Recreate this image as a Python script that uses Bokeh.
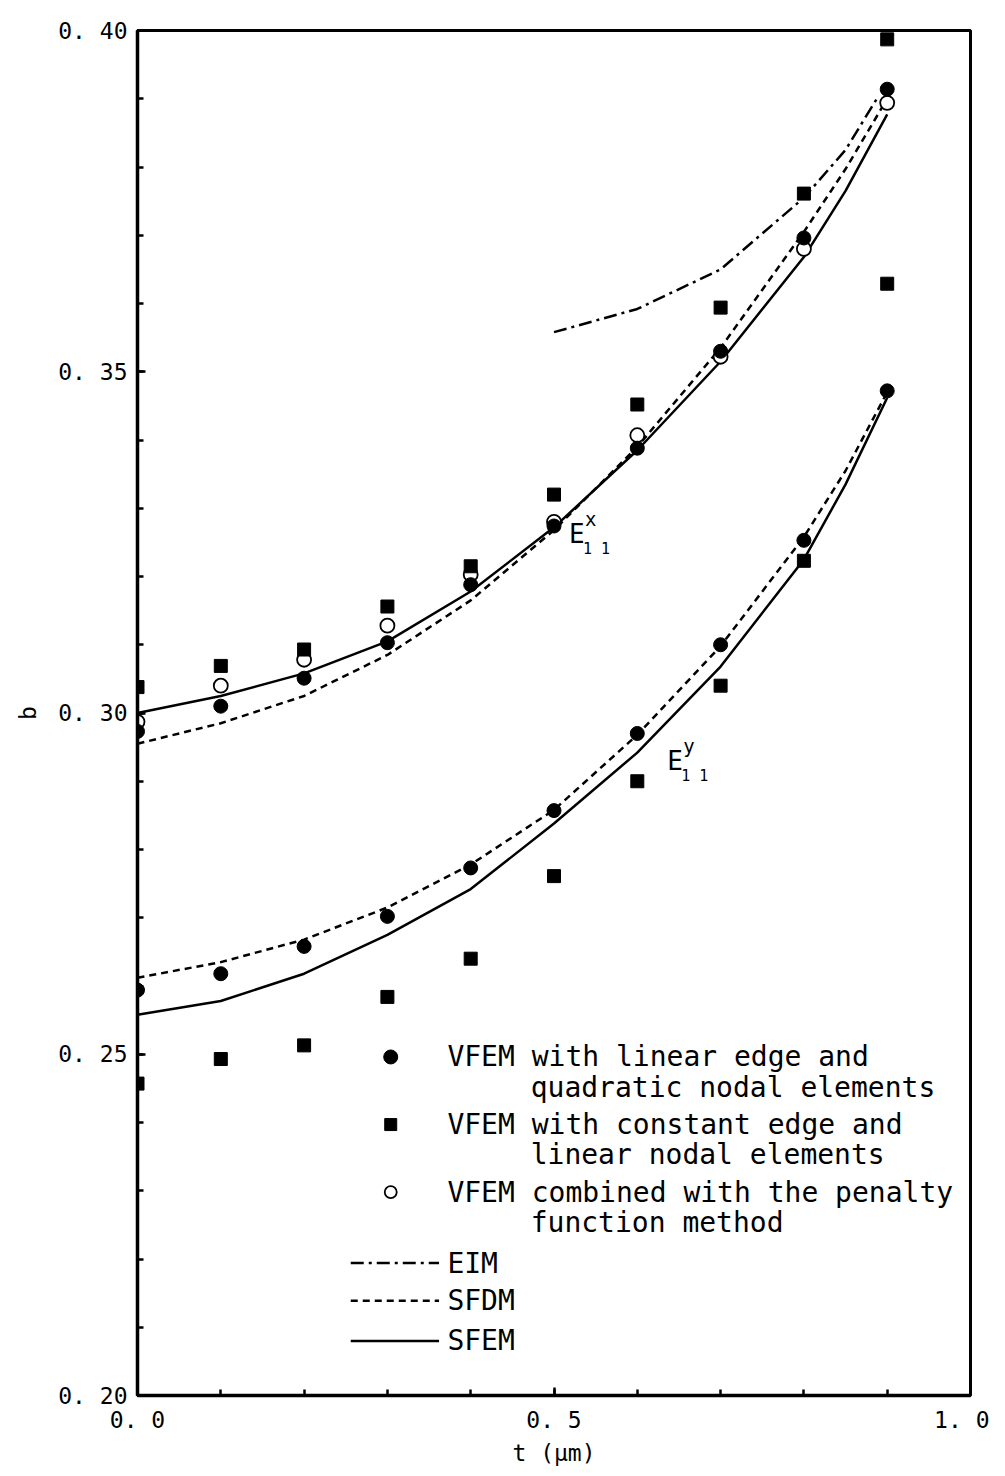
from bokeh.plotting import figure
from bokeh.models import SingleIntervalTicker, CustomJSTickFormatter, Range1d, Label
from bokeh.embed import file_html
from bokeh.resources import INLINE
from bokeh.core.properties import value

# ---- data ----
t_pts = [0.0, 0.1, 0.2, 0.3, 0.4, 0.5, 0.6, 0.7, 0.8, 0.9]
# E11^x branch
ex_quad = [0.2973, 0.3010, 0.3051, 0.3103, 0.3188, 0.3274, 0.3388, 0.3530, 0.3696, 0.3914]
ex_const = [0.3038, 0.3069, 0.3093, 0.3156, 0.3215, 0.3320, 0.3452, 0.3594, 0.3761, 0.3987]
ex_pen = [0.2987, 0.3040, 0.3078, 0.3128, 0.3203, 0.3280, 0.3407, 0.3522, 0.3680, 0.3894]
# E11^y branch
ey_quad = [0.2594, 0.2618, 0.2658, 0.2702, 0.2773, 0.2857, 0.2970, 0.3100, 0.3253, 0.3472]
ey_const = [0.2457, 0.2493, 0.2513, 0.2584, 0.2640, 0.2761, 0.2900, 0.3040, 0.3223, 0.3629]

t_curve = [0.0, 0.1, 0.2, 0.3, 0.4, 0.5, 0.6, 0.7, 0.8, 0.85, 0.9]
ex_sfem = [0.3000, 0.3025, 0.3058, 0.3105, 0.3178, 0.3272, 0.3385, 0.3515, 0.3668, 0.3765, 0.3877]
ex_sfdm = [0.2955, 0.2985, 0.3025, 0.3085, 0.3165, 0.3268, 0.3390, 0.3535, 0.3705, 0.3797, 0.3900]
ey_sfem = [0.2558, 0.2578, 0.2618, 0.2675, 0.2742, 0.2838, 0.2942, 0.3068, 0.3225, 0.3335, 0.3462]
ey_sfdm = [0.2612, 0.2635, 0.2668, 0.2715, 0.2778, 0.2858, 0.2968, 0.3098, 0.3258, 0.3355, 0.3470]
t_eim = [0.5, 0.6, 0.7, 0.8, 0.85, 0.89]
ex_eim = [0.3558, 0.3592, 0.3650, 0.3755, 0.3825, 0.3905]

legend_marker_labels = [
    ("VFEM with linear edge and", "quadratic nodal elements"),
    ("VFEM with constant edge and", "linear nodal elements"),
    ("VFEM combined with the penalty", "function method"),
]
legend_line_labels = ["EIM", "SFDM", "SFEM"]

MONO = "DejaVu Sans Mono"

p = figure(width=989, height=1468, output_backend="svg", toolbar_location=None,
           x_range=Range1d(0.0, 1.0), y_range=Range1d(0.20, 0.40),
           min_border_left=137, min_border_right=19, min_border_top=30, min_border_bottom=68)
p.background_fill_color = "white"
p.border_fill_color = "white"
p.grid.visible = False
p.outline_line_color = "black"
p.outline_line_width = 3
p.outline_line_alpha = 1.0

for ax in (p.xaxis[0], p.yaxis[0]):
    ax.axis_line_width = 3.5
    ax.major_tick_in = 8
    ax.major_tick_out = 0
    ax.minor_tick_in = 6
    ax.minor_tick_out = 0
    ax.major_tick_line_width = 2.5
    ax.minor_tick_line_width = 2.5
    ax.major_label_text_font = MONO
    ax.major_label_text_font_size = "23px"
    ax.major_label_text_color = "black"
    ax.axis_label_text_font = MONO
    ax.axis_label_text_font_style = "normal"
    ax.axis_label_text_font_size = "23px"
    ax.axis_label_text_color = "black"

p.xaxis.ticker = SingleIntervalTicker(interval=0.5, num_minor_ticks=5)
p.yaxis.ticker = SingleIntervalTicker(interval=0.05, num_minor_ticks=5)
p.xaxis.formatter = CustomJSTickFormatter(code="return tick.toFixed(1).replace('.', '. ');")
p.yaxis.formatter = CustomJSTickFormatter(code="return tick.toFixed(2).replace('.', '. ');")
p.xaxis.major_label_standoff = 11
p.yaxis.major_label_standoff = 10
p.xaxis.axis_label = "t (μm)"
p.yaxis.axis_label = "b"
p.xaxis.axis_label_standoff = 4
p.yaxis.axis_label_standoff = 14

LW = 2.5
# curves
p.line(t_curve, ex_sfem, line_color="black", line_width=LW)
p.line(t_curve, ey_sfem, line_color="black", line_width=LW)
p.line(t_curve, ex_sfdm, line_color="black", line_width=LW, line_dash="7 5")
p.line(t_curve, ey_sfdm, line_color="black", line_width=LW, line_dash="7 5")
p.line(t_eim, ex_eim, line_color="black", line_width=LW, line_dash="13 5 3 5")

# points
MS = 14
p.scatter(t_pts, ex_pen, marker="circle", size=MS, fill_color="white", line_color="black", line_width=1.8)
p.scatter(t_pts, ex_quad, marker="circle", size=MS, fill_color="black", line_color="black")
p.scatter(t_pts, ey_quad, marker="circle", size=MS, fill_color="black", line_color="black")
p.scatter(t_pts, ex_const, marker="square", size=MS - 1, fill_color="black", line_color="black")
p.scatter(t_pts, ey_const, marker="square", size=MS - 1, fill_color="black", line_color="black")

# mode labels E11^x, E11^y
for (lx, ly, sup) in [(0.518, 0.3262, "x"), (0.636, 0.2930, "y")]:
    p.add_layout(Label(x=lx, y=ly, text="E", text_font=MONO, text_font_size="26px",
                       text_baseline="middle", text_align="left", text_color="black"))
    p.add_layout(Label(x=lx, y=ly, x_offset=16, y_offset=15, text=sup, text_font=MONO,
                       text_font_size="19px", text_baseline="middle", text_color="black"))
    p.add_layout(Label(x=lx, y=ly, x_offset=14, y_offset=-15, text="1 1", text_font=MONO,
                       text_font_size="15px", text_baseline="middle", text_color="black"))

# legend (drawn inside the frame)
leg_marker_x = 0.304
leg_text_x = 0.372
leg_text2_x = 0.472
leg_rows = [0.2496, 0.2397, 0.2298]
leg_row_gap = 0.0044
leg_line_rows = [0.2194, 0.2139, 0.2080]
leg_line_x = [0.256, 0.362]

p.scatter([leg_marker_x], [leg_rows[0]], marker="circle", size=MS, fill_color="black", line_color="black")
p.scatter([leg_marker_x], [leg_rows[1]], marker="square", size=MS - 2, fill_color="black", line_color="black")
p.scatter([leg_marker_x], [leg_rows[2]], marker="circle", size=MS - 2, fill_color="white", line_color="black", line_width=1.8)
for (l1, l2), ry in zip(legend_marker_labels, leg_rows):
    p.add_layout(Label(x=leg_text_x, y=ry, text=l1, text_font=MONO, text_font_size="28px",
                       text_baseline="middle", text_color="black"))
    p.add_layout(Label(x=leg_text2_x, y=ry - leg_row_gap, text=l2, text_font=MONO, text_font_size="28px",
                       text_baseline="middle", text_color="black"))

dashes = ["13 5 3 5", "7 5", "solid"]
for lab, ry, dash in zip(legend_line_labels, leg_line_rows, dashes):
    p.line(leg_line_x, [ry, ry], line_color="black", line_width=LW, line_dash=dash)
    p.add_layout(Label(x=leg_text_x, y=ry, text=lab, text_font=MONO, text_font_size="28px",
                       text_baseline="middle", text_color="black"))

open("out.html", "w").write(file_html(p, INLINE))
